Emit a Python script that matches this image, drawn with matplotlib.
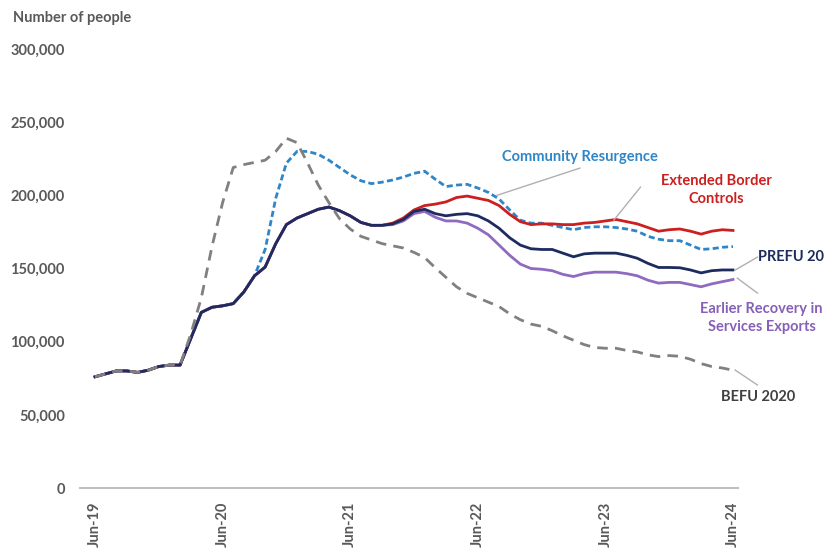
import matplotlib
matplotlib.use("Agg")
import matplotlib.pyplot as plt

# ─── Data (monthly, Jun-19 .. Jun-24) ───────────────────────────────────────────
tick_pos = [0, 12, 24, 36, 48, 60]
tick_labels = ["Jun-19", "Jun-20", "Jun-21", "Jun-22", "Jun-23", "Jun-24"]

# shared history up to Sep-21 (months 0..27)
common = [76, 78, 80, 80, 79, 80.5, 83, 84, 84, 102, 120, 123.5, 124.5, 126,
          134, 145, 151, 167, 180, 184.5, 187.5, 190.5, 192, 189.5, 186, 181.5,
          179.5, 179.5]

prefu = common + [180.5, 183.5, 189, 190.5, 187.5, 186, 187, 187.5, 186, 182.5,
                  177.5, 171, 166, 163.5, 163, 163, 160.5, 158, 160, 160.5, 160.5,
                  160.5, 159, 157, 153.5, 150.7, 150.7, 150.5, 149, 147, 148.5,
                  149, 149]
border = common + [181, 184.5, 190, 193, 194, 195.5, 198.5, 199.5, 198, 196.5,
                   193, 187, 182, 180, 180.5, 180.5, 180, 180, 181, 181.5, 182.5,
                   183.5, 182, 180.5, 178, 175.5, 176.5, 177, 175.5, 173.5, 175.5,
                   176.5, 176]
earlier = common + [180, 182.5, 187.5, 189, 185, 182.5, 182.5, 181, 177.5, 173,
                    166, 159, 153, 150, 149.5, 148.5, 146, 144.5, 146.5, 147.5,
                    147.5, 147.5, 146.5, 145, 142, 140, 140.5, 140.5, 139, 137.5,
                    139.5, 141, 142.5]
resurgence = common[:16] + [163, 198, 222, 230, 230, 228, 224, 219, 214, 210,
                            208, 209, 210.5, 212.5, 215, 216.5, 211, 206, 207,
                            207.5, 205, 202, 197.5, 190, 183, 181, 181, 179.5,
                            178, 176.5, 178, 178.5, 178.5, 178, 177, 175.5, 172,
                            170, 169, 169, 166, 163, 163.5, 164.5, 165]
befu = common[:9] + [105, 130, 165, 195, 219, 221, 222.5, 224, 230, 239, 236,
                     222, 207, 195, 184, 177, 172, 169.5, 167, 165.5, 164, 161,
                     157.5, 150.5, 144, 137.5, 133, 130, 127, 124, 119, 115, 112,
                     110.5, 107.5, 104, 101, 98, 96, 95.5, 95.5, 94, 93, 91, 89.8,
                     90.5, 90, 88, 85, 83, 82, 80.5]

months = list(range(len(prefu)))

def k(vals):
    return [v * 1000 for v in vals]

# ─── Plot ───────────────────────────────────────────────────────────────────────
plt.rcParams["font.family"] = ["Lato", "DejaVu Sans"]
grey_txt = "#595959"

fig = plt.figure(figsize=(8.28, 5.56), dpi=100)
ax = fig.add_axes([80 / 828, 68 / 556, 658 / 828, 439 / 556])

ax.plot(months, k(resurgence), color="#2e86c8", lw=2.0, dashes=(2.2, 1.2))
ax.plot(months, k(border), color="#cc1f1f", lw=2.0)
ax.plot(months, k(earlier), color="#8f6bc0", lw=2.0)
ax.plot(months, k(prefu), color="#1d2b5e", lw=2.0)
ax.plot(months, k(befu), color="#808080", lw=2.0, dashes=(3.8, 2.6))

ax.set_xlim(-1.41, 60.47)
ax.set_ylim(0, 300000)
ax.set_yticks(range(0, 300001, 50000))
ax.yaxis.set_major_formatter(matplotlib.ticker.FuncFormatter(lambda v, p: f"{v:,.0f}"))
ax.set_xticks(tick_pos)
ax.set_xticklabels(tick_labels, rotation=90)
ax.tick_params(axis="y", length=0, pad=11, labelsize=10.5, labelcolor=grey_txt)
ax.tick_params(axis="x", length=0, pad=10, labelsize=10.5, labelcolor=grey_txt)
for lab in ax.get_xticklabels() + ax.get_yticklabels():
    lab.set_fontweight("bold")

for side in ["left", "right", "top"]:
    ax.spines[side].set_visible(False)
ax.spines["bottom"].set_color("#bfbfbf")
ax.spines["bottom"].set_linewidth(1.5)

fig.text(13 / 828, 1 - 18 / 556, "Number of people", fontsize=10.5,
         fontweight="bold", color=grey_txt, ha="left", va="center")

# ─── Series labels with leader lines ────────────────────────────────────────────
lead = "#b0b0b0"
ax.plot([45.6, 37.8], [218600, 200000], color=lead, lw=1, clip_on=False)
ax.plot([51.3, 48.8], [205600, 183100], color=lead, lw=1, clip_on=False)
ax.plot([62.3, 60.2], [157800, 148900], color=lead, lw=1, clip_on=False)
ax.plot([62.3, 60.4], [133200, 143400], color=lead, lw=1, clip_on=False)
ax.plot([62.3, 60.2], [70400, 80600], color=lead, lw=1, clip_on=False)

lbl = dict(fontsize=10.5, fontweight="bold", va="center", linespacing=1.4)
ax.text(45.6, 226100, "Community Resurgence", color="#2e86c8", ha="center", **lbl)
ax.text(58.4, 203500, "Extended Border\nControls", color="#cc1f1f", ha="center",
        multialignment="center", **lbl)
ax.text(68.6, 157800, "PREFU 20", color="#1d2b5e", ha="right", **lbl)
ax.text(62.7, 116100, "Earlier Recovery in\nServices Exports", color="#8660b8",
        ha="center", multialignment="center", **lbl)
ax.text(62.35, 62200, "BEFU 2020", color="#404040", ha="center", **lbl)

fig.savefig("out.png", dpi=100)
